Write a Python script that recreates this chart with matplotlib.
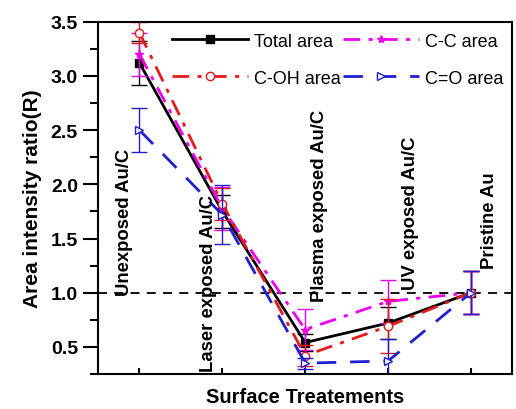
import matplotlib
matplotlib.use("Agg")
import matplotlib.pyplot as plt
from matplotlib.ticker import MultipleLocator

plt.rcParams["font.family"] = ["Liberation Sans", "DejaVu Sans"]

# treatment index and labels
treatments = [1, 2, 3, 4, 5]
treatment_labels = ["Unexposed Au/C", "Laser exposed Au/C", "Plasma exposed Au/C",
                    "UV exposed Au/C", "Pristine Au"]

total_area = [3.12, 1.75, 0.54, 0.72, 1.00]
total_err = [0.20, 0.15, 0.08, 0.15, 0.20]
cc_area = [3.20, 1.78, 0.66, 0.92, 1.00]
cc_err = [0.20, 0.20, 0.19, 0.20, 0.20]
coh_area = [3.40, 1.82, 0.42, 0.69, 1.00]
coh_err = [0.10, 0.15, 0.10, 0.25, 0.20]
co_area = [2.50, 1.72, 0.35, 0.37, 1.00]
co_err = [0.20, 0.27, 0.05, 0.20, 0.20]

fig = plt.figure(figsize=(5.16, 4.10), dpi=100)
ax = fig.add_axes([0.190, 0.0854, 0.803, 0.859])

ax.axhline(1.0, color="black", ls=(0, (5, 4)), lw=1.3, zorder=1)

series = [
    (total_area, total_err, "Total area", "black", "-", "s", "black"),
    (cc_area, cc_err, "C-C area", "#ee00ee", (0, (6, 3, 1.5, 3)), "*", "#ee00ee"),
    (coh_area, coh_err, "C-OH area", "#e41a1c", (0, (6, 3, 1.5, 3)), "o", "white"),
    (co_area, co_err, "C=O area", "#1f1fd0", (0, (7, 5)), ">", "white"),
]
handles = {}
for vals, errs, name, col, ls, mk, face in series:
    ax.errorbar(treatments, vals, yerr=errs, fmt="none", ecolor=col,
                elinewidth=1, capsize=6, capthick=1)
    line, = ax.plot(treatments, vals, color=col, ls=ls, lw=2, marker=mk, ms=6,
                    mfc=face, mec=col, label=name)
    handles[name] = line

text_pos = [(0.82, 0.98), (1.83, 0.28), (3.17, 0.92), (4.27, 1.03), (5.22, 1.23)]
for (tx, ty), lab in zip(text_pos, treatment_labels):
    ax.text(tx, ty, lab, rotation=90, ha="center", va="bottom",
            fontsize=13.3, fontweight="bold")

ax.set_xlim(0.5, 5.5)
ax.set_ylim(0.25, 3.5)
ax.set_xticks(treatments)
ax.set_xticklabels([])
ax.yaxis.set_major_locator(MultipleLocator(0.5))
ax.yaxis.set_minor_locator(MultipleLocator(0.25))
ax.tick_params(axis="y", which="major", direction="out", length=11, width=1.5,
               labelsize=14)
ax.tick_params(axis="y", which="minor", direction="out", length=6, width=1.5)
ax.tick_params(axis="x", which="major", direction="in", length=4, width=1.5)
for lab in ax.get_yticklabels():
    lab.set_fontweight("bold")
for sp in ax.spines.values():
    sp.set_linewidth(1.5)

ax.set_ylabel("Area intensity ratio(R)", fontsize=15, fontweight="bold", labelpad=6)
ax.set_xlabel("Surface Treatements", fontsize=14.5, fontweight="bold", labelpad=6)

order = ["Total area", "C-OH area", "C-C area", "C=O area"]
ax.legend([handles[k] for k in order], order, loc="upper left",
          bbox_to_anchor=(0.14, 1.015), ncol=2, frameon=False,
          fontsize=13, handlelength=4.2, handletextpad=0.35, columnspacing=0.1,
          labelspacing=1.1)

fig.savefig("out.png", dpi=100)
